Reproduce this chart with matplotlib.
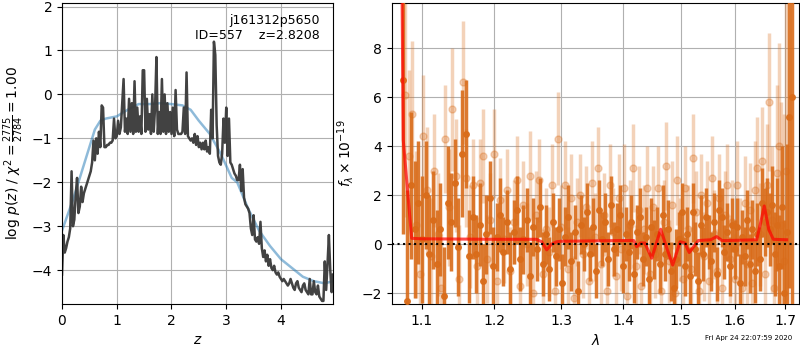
import matplotlib
matplotlib.use('Agg')
import matplotlib.pyplot as plt
import numpy as np
from matplotlib.ticker import FormatStrFormatter, NullFormatter, NullLocator

# ---- p(z) panel data ----
z_grid = np.linspace(0, 4.95, 199)
logpz = [
    -4.10, -3.20, -3.60, -3.50, -3.35, -3.25, -3.05, -1.75, -3.00, -2.85,
    -2.30, -1.90, -2.70, -2.55, -2.10, -2.45, -2.25, -2.15, -2.05, -1.95,
    -1.85, -1.75, -1.55, -1.05, -1.50, -1.00, -1.35, -0.85, -1.20, -0.25,
    -0.30, -1.20, -1.20, -1.15, -1.15, -1.10, -1.10, -1.05, -0.55, -1.00,
    -0.95, -0.60, -0.90, -0.75, -0.20, 0.35, -0.85, -0.55, -0.90, -0.10,
    -0.85, -0.20, -0.90, 0.30, -0.85, -0.30, -0.85, -0.50, -0.90, 0.55,
    0.55, -0.85, -0.10, -0.80, -0.45, -0.90, 0.00, -0.85, -0.30, 0.85,
    -0.90, -0.40, -0.90, 0.35, -0.85, 0.00, -0.90, -0.20, -0.85, -0.40,
    -0.90, -0.30, -0.95, 0.10, -0.80, -0.90, -0.90, -0.90, -0.85, -0.30,
    -0.90, 0.50, -0.95, -1.00, -1.05, -1.00, -1.10, -0.90, -1.15, -0.95,
    -1.20, -1.10, -1.25, -1.10, -1.25, -1.05, -1.30, -1.20, -1.35, -0.35,
    -1.00, 1.20, 0.90, -0.70, -1.40, -1.55, -1.60, -1.35, -0.55, -1.10,
    -0.30, -1.40, -0.55, -1.55, -1.60, -1.70, -1.80, -1.85, -1.95, -1.95,
    -1.60, -2.20, -1.70, -2.35, -2.50, -2.55, -2.60, -2.70, -3.05, -3.20,
    -2.75, -3.30, -3.35, -3.25, -3.40, -2.90, -3.50, -3.70, -3.55, -3.80,
    -3.65, -3.90, -3.75, -3.95, -4.00, -3.90, -4.05, -4.10, -4.05, -4.15,
    -4.20, -4.25, -4.20, -4.25, -4.30, -4.35, -4.30, -4.20, -4.30, -4.40,
    -4.45, -4.30, -4.25, -4.40, -4.45, -4.50, -4.35, -4.30, -4.45, -4.50,
    -4.55, -4.20, -4.55, -4.55, -4.25, -4.50, -4.55, -4.35, -4.60, -4.65,
    -4.70, -4.70, -3.80, -4.45, -3.85, -3.20, -4.00, -4.50, -4.10,
]
z_prior = [0.0, 0.2, 0.4, 0.6, 0.7, 0.8, 1.0, 1.2, 1.4, 1.6, 1.8, 2.0, 2.2,
           2.35, 2.5, 2.7, 2.9, 3.1, 3.2, 3.4, 3.6, 3.8, 4.0, 4.2, 4.4, 4.6,
           4.8, 4.95]
logp_prior = [-3.1, -2.4, -1.6, -0.8, -0.6, -0.55, -0.5, -0.35, -0.22, -0.22,
              -0.2, -0.22, -0.25, -0.35, -0.6, -0.9, -1.35, -1.9, -2.0, -2.6,
              -3.1, -3.45, -3.75, -3.95, -4.15, -4.25, -4.3, -4.25]

# ---- spectrum panel data ----
wave_a = np.linspace(1.076, 1.713, 131)
flux_a = [
    6.7, -2.3, 2.4, 0.6, 1.7, 0.2, 2.0, -0.4, 1.0, -0.8,
    0.6, -2.1, 1.7, 0.9, 2.5, -0.1, 3.7, 4.5, -0.5, 1.1,
    -0.4, 0.8, -1.5, 0.4, 1.9, -0.9, 0.3, 1.2, -0.3, 0.9,
    -1.0, 0.5, 1.4, -0.6, 0.2, 1.0, -1.3, 0.7, -0.2, 1.5,
    -0.8, 0.4, -1.0, 0.9, -0.5, 0.6, -1.6, 0.3, 1.1, -0.7,
    0.5, -1.9, 0.8, 0.0, 1.3, -0.4, 0.7, -1.1, 1.4, 0.2,
    0.9, -0.6, 1.6, -0.2, 0.6, 1.2, -0.9, 0.4, -0.3, 0.9,
    -1.2, 0.5, 1.1, -0.6, 0.3, -1.4, 0.7, -0.2, 0.4, -0.8,
    1.2, -0.4, 0.6, -1.1, -1.8, -0.6, 0.2, 1.3, -0.9, 0.4,
    -1.3, 1.3, -0.2, -1.5, 0.8, -0.4, 1.1, 0.1, -0.7, 0.9,
    -1.2, 1.4, 1.1, -0.3, 0.5, -0.9, 0.8, -0.2, 0.7, -1.6,
    0.3, -0.5, 1.0, -0.8, 0.6, -1.1, 0.4, -0.6, 1.7, 0.9,
    1.3, 0.6, 1.6, -0.4, 0.8, -0.9, 1.5, -2.0, 0.5, 5.2,
    6.0,
]
err_a = [
    6.3, 4.5, 3.0, 2.8, 2.5, 2.6, 2.2, 2.4, 2.0, 2.2,
    1.9, 2.0, 2.3, 2.0, 1.8, 2.0, 2.6, 2.2, 1.9, 1.7,
    1.6, 1.7, 1.5, 1.6, 1.5, 1.6, 1.4, 1.5, 1.4, 1.3,
    1.5, 1.3, 1.4, 1.3, 1.4, 1.3, 1.4, 1.2, 1.3, 1.2,
    1.3, 1.2, 1.3, 1.2, 1.2, 1.3, 1.2, 1.2, 1.3, 1.2,
    1.1, 1.2, 1.2, 1.1, 1.2, 1.1, 1.2, 1.1, 1.2, 1.1,
    1.2, 1.1, 1.2, 1.1, 1.1, 1.2, 1.1, 1.1, 1.2, 1.1,
    1.2, 1.1, 1.2, 1.1, 1.2, 1.1, 1.2, 1.2, 1.1, 1.2,
    1.2, 1.1, 1.2, 1.2, 1.1, 1.2, 1.1, 1.2, 1.2, 1.1,
    1.2, 1.2, 1.1, 1.2, 1.2, 1.1, 1.2, 1.1, 1.2, 1.2,
    1.1, 1.2, 1.2, 1.1, 1.2, 1.2, 1.1, 1.2, 1.2, 1.2,
    1.1, 1.2, 1.2, 1.2, 1.2, 1.3, 1.3, 1.3, 1.4, 1.4,
    1.4, 1.5, 1.6, 1.7, 1.9, 2.1, 2.5, 3.0, 3.6, 7.0,
    9.0,
]
wave_b = np.linspace(1.078, 1.702, 130)
flux_b = [
    6.1, 3.6, 5.3, 0.8, -1.2, 4.4, 2.2, -0.5, 3.0, 0.4,
    -1.8, 4.3, 1.5, 5.5, 2.8, -1.4, 6.6, 2.7, 0.3, 2.4,
    -0.9, 2.5, 3.6, -0.6, 1.0, 3.7, -1.5, 1.8, 0.2, 2.2,
    -1.1, 0.9, 2.6, -1.7, 1.6, 0.0, 2.8, -2.0, 1.2, 2.6,
    -1.2, 0.6, -0.3, 2.4, -1.9, 4.3, 0.7, 2.4, -1.0, 1.9,
    -2.2, 0.9, 2.0, -0.4, 1.5, -1.5, 2.5, 0.3, 3.1, -0.8,
    1.2, -1.9, 2.4, 0.5, -1.3, 1.9, -0.2, 2.3, -2.1, 0.8,
    3.1, -0.9, 1.4, -1.7, 0.6, 2.3, -1.2, 1.5, -0.4, 2.3,
    -1.9, 0.9, 3.2, -0.7, 1.6, -2.0, 2.6, 0.2, -1.4, 2.3,
    0.6, -1.0, 3.5, 1.3, -1.9, 2.0, -0.5, 1.7, -1.5, 2.7,
    0.4, -1.1, 1.9, -1.8, 1.2, 2.4, -0.6, 0.9, -1.4, 2.4,
    0.1, -1.8, 1.7, -0.8, 1.4, -1.6, 2.2, 3.1, 0.4, 3.4,
    -1.2, 2.4, 5.8, 1.0, -1.8, 2.9, 4.0, 0.8, -0.7, 3.0,
]
err_b = [
    5.0, 3.5, 3.0, 3.0, 2.8, 2.5, 2.6, 2.4, 2.3, 2.5,
    2.2, 2.2, 2.4, 2.5, 2.3, 2.2, 2.5, 2.0, 2.1, 1.9,
    2.0, 1.8, 1.9, 1.8, 1.9, 1.8, 1.9, 1.7, 1.8, 1.7,
    1.8, 1.7, 1.8, 1.7, 1.8, 1.7, 1.8, 1.7, 1.8, 1.7,
    1.8, 1.7, 1.8, 1.7, 1.8, 1.9, 1.7, 1.8, 1.7, 1.8,
    1.7, 1.8, 1.7, 1.8, 1.7, 1.8, 1.7, 1.8, 1.7, 1.8,
    1.7, 1.8, 1.7, 1.8, 1.7, 1.8, 1.7, 1.8, 1.7, 1.8,
    1.8, 1.7, 1.8, 1.7, 1.8, 1.7, 1.8, 1.7, 1.8, 1.7,
    1.8, 1.7, 1.8, 1.7, 1.8, 1.7, 1.8, 1.7, 1.8, 1.7,
    1.8, 1.7, 1.8, 1.7, 1.8, 1.7, 1.8, 1.7, 1.8, 1.7,
    1.8, 1.7, 1.8, 1.7, 1.8, 1.7, 1.8, 1.7, 1.8, 1.8,
    1.8, 1.8, 1.9, 1.9, 1.9, 2.0, 2.0, 2.1, 2.1, 2.2,
    2.3, 2.5, 2.8, 3.0, 3.3, 3.6, 4.2, 5.0, 6.0, 8.0,
]
wave_model = [1.0735, 1.076, 1.0869, 1.10, 1.20, 1.262, 1.270, 1.2777, 1.285,
              1.293, 1.30, 1.40, 1.418, 1.423, 1.430, 1.437, 1.449, 1.4645,
              1.476, 1.4858, 1.499, 1.5075, 1.5156, 1.532, 1.555, 1.566,
              1.576, 1.585, 1.643, 1.650, 1.658, 1.667, 1.676, 1.703]
flux_model = [14.0, 4.25, 0.24, 0.22, 0.2, 0.2, 0.1, -0.23, 0.0,
              0.1, 0.12, 0.15, 0.15, -0.1, 0.05, 0.05, -0.57, 0.61,
              -0.2, -0.85, 0.1, 0.05, -0.34, 0.15, 0.18, 0.31,
              0.15, 0.15, 0.18, 0.8, 1.56, 0.6, 0.2, 0.18]

chi2_num, chi2_den = 2775, 2784
obj_id, zbest = 557, 2.8208

fig = plt.figure(figsize=(8, 3.5), dpi=100)
ax = fig.add_axes([0.0775, 0.1314, 0.33875, 0.86])
ax2 = fig.add_axes([0.4896, 0.1314, 0.5095, 0.86])

# p(z)
ax.plot(z_prior, logp_prior, color='tab:blue', alpha=0.5, lw=1.8)
ax.plot(z_grid, logpz, color='0.22', lw=1.8, alpha=0.95)
ax.set_xlim(0, 4.95)
ax.set_ylim(-4.77, 2.08)
ax.set_xticks([0, 1, 2, 3, 4])
ax.set_yticks([-4, -3, -2, -1, 0, 1, 2])
ax.grid()
ax.set_xlabel(r'$z$')
ax.set_ylabel(r'log $p(z)$' + ' / ' +
              r'$\chi^2=\frac{%d}{%d}=%.2f$' % (chi2_num, chi2_den, chi2_num / chi2_den))
ax.text(0.95, 0.965, 'j161312p5650\nID={0}    z={1:.4f}'.format(obj_id, zbest),
        ha='right', va='top', transform=ax.transAxes, fontsize=9)

# spectrum
col = '#d96c1a'
ax2.errorbar(wave_b, flux_b, yerr=err_b, marker='o', ms=5, linestyle='none',
             color=col, alpha=0.3, elinewidth=2.5, capsize=0, zorder=2)
ax2.errorbar(wave_a, flux_a, yerr=err_a, marker='o', ms=4, linestyle='none',
             color=col, alpha=0.9, elinewidth=2.5, capsize=0, zorder=3)
ax2.plot(wave_model, flux_model, color='r', alpha=0.7, lw=2.2, zorder=4)
ax2.axhline(0, color='k', linestyle=':', lw=1.5, zorder=5)

ax2.set_xscale('log')
ax2.set_xlim(1.0612, 1.729)
ax2.set_ylim(-2.44, 9.84)
ax2.set_xticks([1.1, 1.2, 1.3, 1.4, 1.5, 1.6, 1.7])
ax2.xaxis.set_major_formatter(FormatStrFormatter('%.1f'))
ax2.xaxis.set_minor_locator(NullLocator())
ax2.xaxis.set_minor_formatter(NullFormatter())
ax2.set_yticks([-2, 0, 2, 4, 6, 8])
ax2.grid()
ax2.set_axisbelow(True)
ax2.set_xlabel(r'$\lambda$')
ax2.set_ylabel(r'$f_\lambda \times 10^{-19}$')

fig.text(0.99, 0.035, 'Fri Apr 24 22:07:59 2020', ha='right', va='center', fontsize=5)

fig.savefig('out.png', dpi=100)
